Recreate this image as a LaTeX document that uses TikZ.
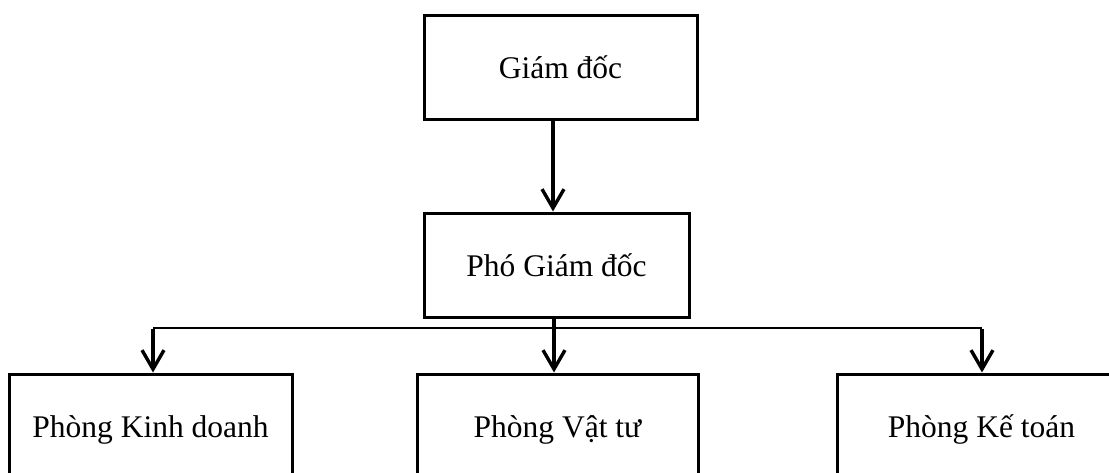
\documentclass[tikz,border=0pt]{standalone}
\usepackage{fontspec}
\setmainfont{Liberation Serif}
\usetikzlibrary{arrows.meta}

\tikzset{
  box/.style={draw=black, line width=3pt, fill=white, inner sep=0pt,
    minimum height=104pt, text height=23pt, text depth=0pt,
    font=\fontsize{31.5}{37}\selectfont},
  arr/.style={draw=black, line width=3.4pt,
    -{Straight Barb[length=19pt, width=22pt, line width=3.4pt]}},
  stem/.style={draw=black, line width=3.4pt},
  busline/.style={draw=black, line width=2.2pt},
}

\begin{document}
\begin{tikzpicture}[x=1pt, y=-1pt]
  \useasboundingbox (0,0) rectangle (1109,472);
  \fill[white] (0,0) rectangle (1109,472);
  \clip (0,0) rectangle (1109,472);

  % management boxes
  \node[box, minimum width=273pt] (gd)  at (560.5,67)  {Giám đốc};
  \node[box, minimum width=265pt] (pgd) at (556.5,265) {Phó Giám đốc};

  % departments
  \node[box, minimum width=283pt] (kd) at (150.5,426) {Phòng Kinh doanh};
  \node[box, minimum width=281pt] (vt) at (557.5,426) {Phòng Vật tư};
  \node[box, minimum width=289pt] (kt) at (981.5,426) {Phòng Kế toán};

  % distribution bus
  \coordinate (bl) at (153,328);
  \coordinate (bm) at (554,328);
  \coordinate (br) at (982,328);

  \draw[arr] ([xshift=-7.5pt]gd.south) -- ([xshift=-7.5pt]gd.south |- pgd.north);
  \draw[stem] (pgd.south -| bm) -- (bm);
  \draw[busline] (bl) -- (br);
  \draw[arr] ([yshift=-1.1pt]bl) -- (bl |- kd.north);
  \draw[arr] (bm) -- (bm |- vt.north);
  \draw[arr] ([yshift=-1.1pt]br) -- (br |- kt.north);
\end{tikzpicture}
\end{document}
